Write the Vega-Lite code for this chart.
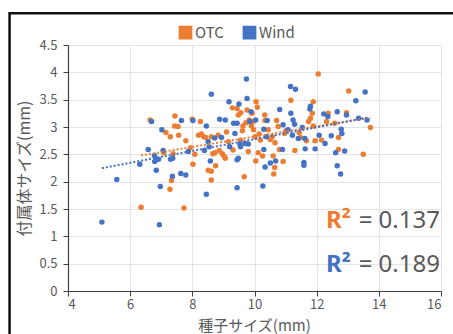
{
  "$schema": "https://vega.github.io/schema/vega-lite/v6.json",
  "autosize": "none",
  "width": 373,
  "height": 246,
  "padding": {"left": 68, "top": 45, "right": 12, "bottom": 43},
  "background": "white",
  "config": {
    "font": "Noto Sans CJK JP",
    "view": {"stroke": null},
    "axis": {"labelColor": "#595959", "titleColor": "#595959", "labelFontSize": 13, "titleFontSize": 16, "titleFontWeight": "normal", "gridColor": "#e3e3e3", "domainColor": "#404040", "tickColor": "#404040", "labelOverlap": false},
    "axisY": {"tickCount": 10, "titleX": -36, "titleY": 123, "titleAlign": "center", "titleBaseline": "bottom", "titleAngle": -90},
    "axisX": {"titleX": 186, "titleY": 39, "titleAlign": "center", "titleBaseline": "alphabetic"}
  },
  "datasets": {
    "pts": [
      {"series":"OTC","x":6.35,"y":1.53},{"series":"OTC","x":6.64,"y":3.13},{"series":"OTC","x":7.08,"y":2.53},{"series":"OTC","x":7.15,"y":2.9},{"series":"OTC","x":7.29,"y":2.82},{"series":"OTC","x":7.28,"y":1.86},{"series":"OTC","x":7.33,"y":2.02},{"series":"OTC","x":7.38,"y":2.51},{"series":"OTC","x":7.44,"y":3.2},{"series":"OTC","x":7.43,"y":3.02},{"series":"OTC","x":7.54,"y":3.01},{"series":"OTC","x":7.56,"y":2.85},{"series":"OTC","x":7.73,"y":1.52},{"series":"OTC","x":7.79,"y":2.75},{"series":"OTC","x":7.94,"y":2.62},{"series":"OTC","x":8.0,"y":3.14},{"series":"OTC","x":8.02,"y":2.32},{"series":"OTC","x":8.08,"y":2.5},{"series":"OTC","x":8.2,"y":2.85},{"series":"OTC","x":8.26,"y":3.1},{"series":"OTC","x":8.29,"y":2.87},{"series":"OTC","x":8.37,"y":2.82},{"series":"OTC","x":8.43,"y":2.81},{"series":"OTC","x":8.51,"y":2.21},{"series":"OTC","x":8.61,"y":2.19},{"series":"OTC","x":8.61,"y":2.03},{"series":"OTC","x":8.61,"y":2.82},{"series":"OTC","x":8.66,"y":2.51},{"series":"OTC","x":8.73,"y":2.53},{"series":"OTC","x":8.75,"y":2.29},{"series":"OTC","x":8.83,"y":2.85},{"series":"OTC","x":8.87,"y":2.57},{"series":"OTC","x":8.96,"y":2.51},{"series":"OTC","x":9.02,"y":2.47},{"series":"OTC","x":9.06,"y":2.43},{"series":"OTC","x":9.1,"y":2.91},{"series":"OTC","x":9.16,"y":2.73},{"series":"OTC","x":9.29,"y":3.35},{"series":"OTC","x":9.31,"y":2.58},{"series":"OTC","x":9.44,"y":3.34},{"series":"OTC","x":9.48,"y":3.22},{"series":"OTC","x":9.56,"y":3.26},{"series":"OTC","x":9.55,"y":2.76},{"series":"OTC","x":9.61,"y":2.93},{"series":"OTC","x":9.63,"y":3.02},{"series":"OTC","x":9.67,"y":2.09},{"series":"OTC","x":9.72,"y":3.08},{"series":"OTC","x":9.76,"y":3.31},{"series":"OTC","x":9.8,"y":2.55},{"series":"OTC","x":9.83,"y":3.13},{"series":"OTC","x":9.9,"y":3.02},{"series":"OTC","x":9.92,"y":3.25},{"series":"OTC","x":9.95,"y":3.1},{"series":"OTC","x":9.97,"y":2.95},{"series":"OTC","x":10.02,"y":2.82},{"series":"OTC","x":10.05,"y":3.46},{"series":"OTC","x":10.09,"y":3.36},{"series":"OTC","x":10.04,"y":2.38},{"series":"OTC","x":10.12,"y":2.53},{"series":"OTC","x":10.15,"y":2.87},{"series":"OTC","x":10.19,"y":2.76},{"series":"OTC","x":10.26,"y":2.47},{"series":"OTC","x":10.33,"y":3.22},{"series":"OTC","x":10.34,"y":3.12},{"series":"OTC","x":10.44,"y":2.95},{"series":"OTC","x":10.51,"y":2.77},{"series":"OTC","x":10.57,"y":2.82},{"series":"OTC","x":10.6,"y":2.47},{"series":"OTC","x":10.62,"y":2.14},{"series":"OTC","x":10.65,"y":2.26},{"series":"OTC","x":10.66,"y":2.71},{"series":"OTC","x":10.71,"y":3.12},{"series":"OTC","x":10.76,"y":3.01},{"series":"OTC","x":10.8,"y":2.59},{"series":"OTC","x":10.92,"y":2.37},{"series":"OTC","x":10.97,"y":2.88},{"series":"OTC","x":11.01,"y":2.93},{"series":"OTC","x":11.17,"y":3.49},{"series":"OTC","x":11.3,"y":2.57},{"series":"OTC","x":11.44,"y":2.9},{"series":"OTC","x":11.48,"y":2.81},{"series":"OTC","x":11.67,"y":2.75},{"series":"OTC","x":11.74,"y":3.1},{"series":"OTC","x":11.8,"y":3.16},{"series":"OTC","x":11.86,"y":3.25},{"series":"OTC","x":11.89,"y":3.46},{"series":"OTC","x":11.89,"y":3.02},{"series":"OTC","x":12.05,"y":3.97},{"series":"OTC","x":11.95,"y":2.75},{"series":"OTC","x":12.16,"y":2.76},{"series":"OTC","x":12.32,"y":3.1},{"series":"OTC","x":12.37,"y":3.25},{"series":"OTC","x":12.58,"y":3.07},{"series":"OTC","x":12.7,"y":2.81},{"series":"OTC","x":12.7,"y":2.59},{"series":"OTC","x":12.96,"y":3.26},{"series":"OTC","x":13.03,"y":3.66},{"series":"OTC","x":13.5,"y":2.5},{"series":"OTC","x":13.73,"y":2.99},
      {"series":"Wind","x":5.09,"y":1.26},{"series":"Wind","x":5.57,"y":2.04},{"series":"Wind","x":6.31,"y":2.32},{"series":"Wind","x":6.58,"y":2.59},{"series":"Wind","x":6.69,"y":3.1},{"series":"Wind","x":6.78,"y":2.48},{"series":"Wind","x":6.79,"y":2.37},{"series":"Wind","x":6.84,"y":2.4},{"series":"Wind","x":6.91,"y":2.41},{"series":"Wind","x":6.84,"y":2.21},{"series":"Wind","x":6.94,"y":1.21},{"series":"Wind","x":6.97,"y":1.91},{"series":"Wind","x":7.02,"y":2.95},{"series":"Wind","x":7.06,"y":2.57},{"series":"Wind","x":7.3,"y":2.41},{"series":"Wind","x":7.37,"y":2.43},{"series":"Wind","x":7.36,"y":2.1},{"series":"Wind","x":7.65,"y":3.12},{"series":"Wind","x":7.63,"y":2.15},{"series":"Wind","x":7.79,"y":2.12},{"series":"Wind","x":7.87,"y":2.55},{"series":"Wind","x":8.02,"y":3.12},{"series":"Wind","x":8.39,"y":2.57},{"series":"Wind","x":8.45,"y":3.02},{"series":"Wind","x":8.45,"y":1.77},{"series":"Wind","x":8.51,"y":2.73},{"series":"Wind","x":8.54,"y":2.64},{"series":"Wind","x":8.58,"y":2.38},{"series":"Wind","x":8.61,"y":3.6},{"series":"Wind","x":8.72,"y":2.8},{"series":"Wind","x":8.88,"y":3.14},{"series":"Wind","x":8.94,"y":2.81},{"series":"Wind","x":9.06,"y":3.13},{"series":"Wind","x":9.18,"y":3.46},{"series":"Wind","x":9.2,"y":2.64},{"series":"Wind","x":9.33,"y":3.07},{"series":"Wind","x":9.37,"y":2.88},{"series":"Wind","x":9.44,"y":3.07},{"series":"Wind","x":9.44,"y":2.4},{"series":"Wind","x":9.48,"y":2.43},{"series":"Wind","x":9.44,"y":1.89},{"series":"Wind","x":9.5,"y":3.42},{"series":"Wind","x":9.53,"y":2.69},{"series":"Wind","x":9.55,"y":2.64},{"series":"Wind","x":9.74,"y":3.88},{"series":"Wind","x":9.76,"y":3.52},{"series":"Wind","x":9.7,"y":2.7},{"series":"Wind","x":9.8,"y":2.69},{"series":"Wind","x":9.85,"y":3.1},{"series":"Wind","x":9.89,"y":3.28},{"series":"Wind","x":10.04,"y":3.13},{"series":"Wind","x":10.27,"y":1.92},{"series":"Wind","x":10.3,"y":2.96},{"series":"Wind","x":10.3,"y":2.59},{"series":"Wind","x":10.34,"y":2.27},{"series":"Wind","x":10.38,"y":2.82},{"series":"Wind","x":10.41,"y":3.12},{"series":"Wind","x":10.51,"y":2.34},{"series":"Wind","x":10.68,"y":2.38},{"series":"Wind","x":10.81,"y":3.32},{"series":"Wind","x":10.9,"y":2.59},{"series":"Wind","x":10.92,"y":3.04},{"series":"Wind","x":11.16,"y":3.74},{"series":"Wind","x":11.32,"y":3.69},{"series":"Wind","x":11.17,"y":3.25},{"series":"Wind","x":11.24,"y":3.13},{"series":"Wind","x":11.29,"y":3.05},{"series":"Wind","x":11.22,"y":2.85},{"series":"Wind","x":11.08,"y":2.95},{"series":"Wind","x":11.41,"y":2.79},{"series":"Wind","x":11.54,"y":2.99},{"series":"Wind","x":11.59,"y":2.35},{"series":"Wind","x":11.59,"y":2.3},{"series":"Wind","x":11.63,"y":2.6},{"series":"Wind","x":11.62,"y":2.79},{"series":"Wind","x":11.8,"y":3.38},{"series":"Wind","x":11.78,"y":3.33},{"series":"Wind","x":11.95,"y":2.6},{"series":"Wind","x":12.08,"y":2.85},{"series":"Wind","x":12.23,"y":3.24},{"series":"Wind","x":12.27,"y":2.7},{"series":"Wind","x":12.36,"y":3.19},{"series":"Wind","x":12.47,"y":2.84},{"series":"Wind","x":12.61,"y":2.53},{"series":"Wind","x":12.66,"y":3.28},{"series":"Wind","x":12.66,"y":2.29},{"series":"Wind","x":12.77,"y":2.14},{"series":"Wind","x":12.79,"y":2.96},{"series":"Wind","x":12.81,"y":2.88},{"series":"Wind","x":12.9,"y":2.56},{"series":"Wind","x":12.96,"y":3.22},{"series":"Wind","x":13.26,"y":3.48},{"series":"Wind","x":13.35,"y":3.16},{"series":"Wind","x":13.56,"y":3.64},{"series":"Wind","x":13.62,"y":3.13}
    ],
    "ann": [
      {"series":"OTC","r2":"= 0.137","ypos":1.15},
      {"series":"Wind","r2":"= 0.189","ypos":0.35}
    ]
  },
  "layer": [
    {
      "data": {"name": "pts"},
      "mark": {"type": "point", "filled": true, "size": 30, "opacity": 1},
      "encoding": {
        "x": {"field": "x", "type": "quantitative", "scale": {"domain": [4, 16], "nice": false, "zero": false},
              "axis": {"title": "種子サイズ(mm)", "values": [4,6,8,10,12,14,16], "tickSize": 5, "labelPadding": 2, "titleFontSize": 15, "domainWidth": 1.2}},
        "y": {"field": "y", "type": "quantitative", "scale": {"domain": [0, 4.5], "nice": false},
              "axis": {"title": "付属体サイズ(mm)", "values": [0,0.5,1,1.5,2,2.5,3,3.5,4,4.5], "format": "~g", "tickSize": 5, "labelPadding": 6, "domainWidth": 1.2}},
        "color": {"field": "series", "type": "nominal", "scale": {"domain": ["OTC", "Wind"], "range": ["#ED7D31", "#4472C4"]},
                  "legend": {"title": null, "orient": "none", "direction": "horizontal", "legendX": 110, "legendY": -20, "symbolType": "square", "symbolSize": 150, "symbolOpacity": 1, "labelFontSize": 15, "labelColor": "#595959", "columnPadding": 16, "labelOffset": 2}}
      }
    },
    {
      "data": {"name": "pts"},
      "transform": [{"regression": "y", "on": "x", "groupby": ["series"]}],
      "mark": {"type": "line", "strokeDash": [2, 2], "strokeWidth": 2},
      "encoding": {
        "x": {"field": "x", "type": "quantitative"},
        "y": {"field": "y", "type": "quantitative", "axis": {"title": "付属体サイズ(mm)", "values": [0,0.5,1,1.5,2,2.5,3,3.5,4,4.5], "format": "~g", "tickSize": 5, "labelPadding": 6, "domainWidth": 1.2}},
        "color": {"field": "series", "type": "nominal"}
      }
    },
    {
      "data": {"name": "ann"},
      "mark": {"type": "text", "align": "right", "baseline": "alphabetic", "fontSize": 24, "fontWeight": "bold", "font": "Noto Sans", "text": "R²"},
      "encoding": {
        "x": {"datum": 13.1, "type": "quantitative"},
        "y": {"field": "ypos", "type": "quantitative", "axis": {"title": "付属体サイズ(mm)", "values": [0,0.5,1,1.5,2,2.5,3,3.5,4,4.5], "format": "~g", "tickSize": 5, "labelPadding": 6, "domainWidth": 1.2}},
        "color": {"field": "series", "type": "nominal"}
      }
    },
    {
      "data": {"name": "ann"},
      "mark": {"type": "text", "align": "left", "baseline": "alphabetic", "fontSize": 24, "font": "Noto Sans", "color": "#595959"},
      "encoding": {
        "x": {"datum": 13.35, "type": "quantitative"},
        "y": {"field": "ypos", "type": "quantitative", "axis": {"title": "付属体サイズ(mm)", "values": [0,0.5,1,1.5,2,2.5,3,3.5,4,4.5], "format": "~g", "tickSize": 5, "labelPadding": 6, "domainWidth": 1.2}},
        "text": {"field": "r2"}
      }
    },
    {
      "data": {"values": [{}]},
      "mark": {"type": "rect", "fill": null, "stroke": "#111111", "strokeWidth": 2.5},
      "encoding": {
        "x": {"datum": 2.12, "type": "quantitative"},
        "x2": {"datum": 20},
        "y": {"datum": 5.08, "type": "quantitative", "axis": {"title": "付属体サイズ(mm)", "values": [0,0.5,1,1.5,2,2.5,3,3.5,4,4.5], "format": "~g", "tickSize": 5, "labelPadding": 6, "domainWidth": 1.2}},
        "y2": {"datum": -1.5}
      }
    }
  ]
}
